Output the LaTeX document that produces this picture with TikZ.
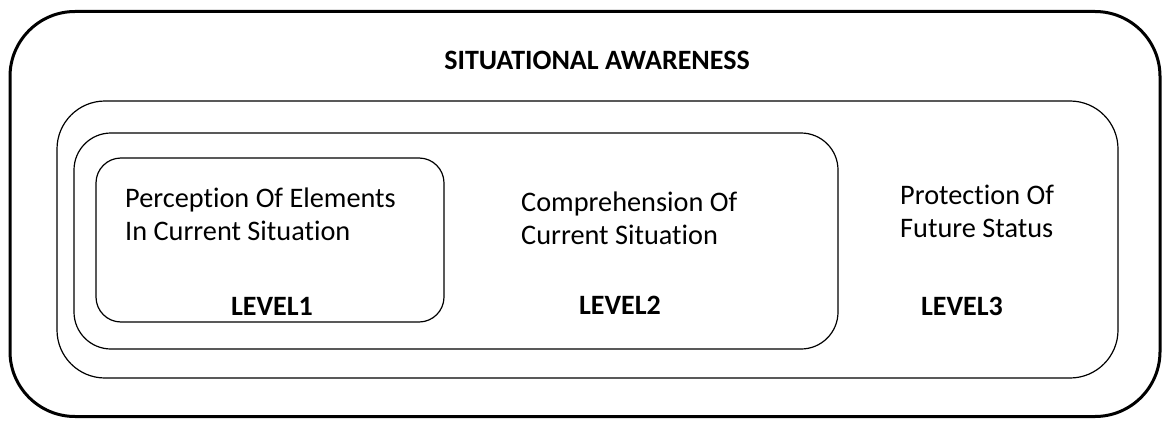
\documentclass[tikz,border=0pt]{standalone}
\usepackage{fontspec}
\setmainfont{Carlito}[Ligatures={NoCommon}]
\begin{document}
\begin{tikzpicture}[x=1pt,y=-1pt,
  outerbox/.style={draw, line width=3pt, rounded corners=65pt, inner sep=0pt},
  levelbox/.style={draw, line width=1.2pt, inner sep=0pt},
  bodytext/.style={font=\fontsize{28.3}{33}\selectfont, align=left, inner sep=0pt, anchor=base west},
  leveltext/.style={font=\fontsize{28}{33}\selectfont\bfseries, inner sep=0pt, anchor=base}]
\useasboundingbox (0,0) rectangle (1166,420);
\node[outerbox, minimum width=1150pt, minimum height=405pt] (sa) at (585,214) {};
\node[levelbox, rounded corners=48pt, minimum width=1061pt, minimum height=277pt] (b3) at (587.5,239.5) {};
\node[levelbox, rounded corners=37pt, minimum width=764pt, minimum height=216pt] (b2) at (456,241) {};
\node[levelbox, rounded corners=25pt, minimum width=348pt, minimum height=164pt] (b1) at (270,240) {};
\node[leveltext] (title) at (597,69) {SITUATIONAL AWARENESS};
\node[bodytext] (t1) at (125,240) {Perception Of Elements\\In Current Situation};
\node[bodytext] (t2) at (521,244) {Comprehension Of\\Current Situation};
\node[bodytext] (t3) at (900,237) {Protection Of\\Future Status};
\node[leveltext] (l1) at (272,315) {LEVEL1};
\node[leveltext] (l2) at (620,314) {LEVEL2};
\node[leveltext] (l3) at (962,315) {LEVEL3};
\end{tikzpicture}
\end{document}
